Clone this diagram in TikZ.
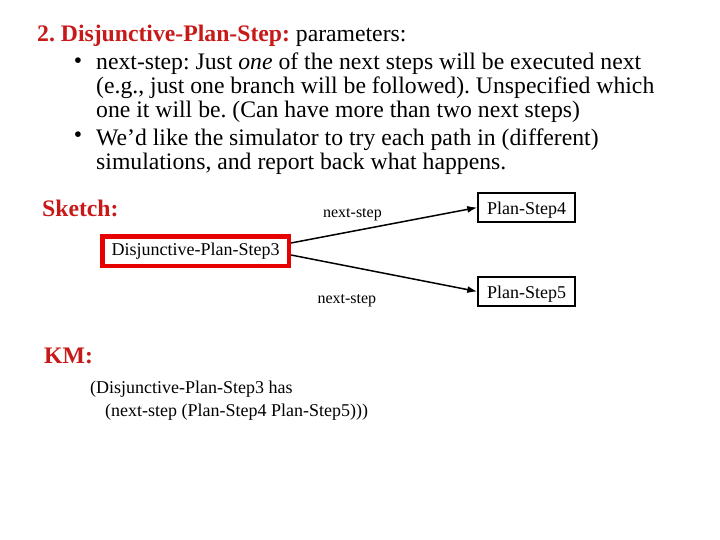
\documentclass[tikz,border=0pt]{standalone}
\usepackage{fontspec}
\setmainfont{Liberation Serif}
\usetikzlibrary{arrows.meta}
\definecolor{slidered}{RGB}{200,25,25}
\definecolor{boxred}{RGB}{230,0,0}
\tikzset{>={Latex[width=7pt,length=10pt]}}
\tikzset{
  big/.style={inner sep=0pt, font=\fontsize{23.7}{24}\selectfont},
  head/.style={big, text=slidered, font=\fontsize{23.7}{24}\selectfont\bfseries},
  stepbox/.style={draw, line width=1.5pt, minimum width=97pt, minimum height=29pt, inner sep=0pt, text height=15pt, text depth=1pt, font=\fontsize{18}{20}\selectfont},
  edgelabel/.style={inner sep=0pt, font=\fontsize{16}{18}\selectfont}
}
\frenchspacing

\begin{document}
\begin{tikzpicture}[x=1pt,y=-1pt]
    \useasboundingbox (0,0) rectangle (720,540);
    % slide text
    \node (title) [big, anchor=base west] at (37,42) {\textcolor{slidered}{\textbf{2. Disjunctive-Plan-Step:}} parameters:};
    \node (b1) [big] at (78,63) {\textbullet};
    \node (t1) [big, anchor=north west, align=left] at (96,53) {next-step: Just \textit{one} of the next steps will be executed next\\(e.g., just one branch will be followed). Unspecified which\\one it will be. (Can have more than two next steps)};
    \node (b2) [big] at (78,137) {\textbullet};
    \node (t2) [big, anchor=north west, align=left] at (96,129) {We'd like the simulator to try each path in (different)\\simulations, and report back what happens.};
    \node (sketch) [head, anchor=base west] at (42,217) {Sketch:};
    \node (km) [head, anchor=base west] at (44,363) {KM:};

    % sketch
    \node (DPS) [draw=boxred, line width=4.5pt, minimum width=186.5pt, minimum height=29.5pt, inner sep=0pt, font=\fontsize{18}{20}\selectfont] at (195.5,251) {Disjunctive-Plan-Step3};
    \node (PS4) [stepbox] at (526.5,207.5) {Plan-Step4};
    \node (PS5) [stepbox] at (526.5,291.5) {Plan-Step5};
    \path [draw, line width=1.5pt, ->] ([yshift=8pt]DPS.east) -- node [edgelabel, pos=0.33, above=10pt] {next-step} (PS4.west);
    \path [draw, line width=1.5pt, ->] ([yshift=-4pt]DPS.east) -- node [edgelabel, pos=0.3, below=28pt] {next-step} (PS5.west);

    % KM code
    \node (code) [inner sep=0pt, anchor=north west, align=left, font=\fontsize{18}{23}\selectfont] at (90,381) {(Disjunctive-Plan-Step3 has\\\hspace*{15pt}(next-step (Plan-Step4 Plan-Step5)))};
\end{tikzpicture}
\end{document}
